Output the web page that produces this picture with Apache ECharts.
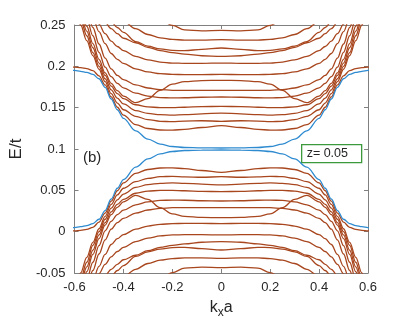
<!DOCTYPE html>
<html>
<head>
<meta charset="utf-8">
<script src="https://cdn.jsdelivr.net/npm/echarts@6/dist/echarts.min.js"></script>
<style>
  html, body { margin: 0; padding: 0; background: #fff; }
  #main { width: 407px; height: 327px; }
</style>
</head>
<body>
<div id="main"></div>
<script>
// half of the k axis (curves are symmetric in k)
var kHalf = [0, 0.08, 0.15, 0.2, 0.25, 0.3, 0.35, 0.4, 0.425, 0.45, 0.475, 0.5, 0.525, 0.55, 0.575, 0.6, 0.65];

// blue edge states
var blueLow = [0.0988, 0.0987, 0.0982, 0.0970, 0.0940, 0.0880, 0.0780, 0.0630, 0.0525, 0.0395, 0.0255, 0.0150, 0.0098, 0.0074, 0.0060, 0.0050, 0.0037];
var blueUp  = [0.1012, 0.1013, 0.1018, 0.1030, 0.1060, 0.1120, 0.1220, 0.1370, 0.1475, 0.1605, 0.1745, 0.1850, 0.1902, 0.1926, 0.1940, 0.1950, 0.1963];

// brown bands below E=0.1
var low1  = [0.0718, 0.0740, 0.0762, 0.0772, 0.0770, 0.0752, 0.0705, 0.0590, 0.0495, 0.0370, 0.0225, 0.0115, 0.0052, 0.0027, 0.0016, 0.0010, 0.0005];
var low2  = [0.0665, 0.0658, 0.0662, 0.0670, 0.0665, 0.0645, 0.0605, 0.0525, 0.0445, 0.0330, 0.0185, 0.0035, -0.0130, -0.0310, -0.0500, -0.0700, -0.1100];
var low3  = [0.0565, 0.0575, 0.0585, 0.0590, 0.0585, 0.0570, 0.0535, 0.0455, 0.0385, 0.0285, 0.0150, 0.0000, -0.0165, -0.0370, -0.0570, -0.0770, -0.1170];
var low4  = [0.0484, 0.0488, 0.0495, 0.0500, 0.0500, 0.0490, 0.0465, 0.0390, 0.0330, 0.0240, 0.0110, -0.0040, -0.0225, -0.0425, -0.0630, -0.0830, -0.1230];
var low5  = [0.0371, 0.0374, 0.0380, 0.0382, 0.0378, 0.0360, 0.0325, 0.0260, 0.0205, 0.0125, 0.0010, -0.0170, -0.0370, -0.0580, -0.0790, -0.1000, -0.1420];
var low6  = [0.0290, 0.0292, 0.0292, 0.0290, 0.0282, 0.0262, 0.0225, 0.0160, 0.0110, 0.0030, -0.0100, -0.0270, -0.0470, -0.0680, -0.0890, -0.1100, -0.1520];
var low7  = [0.0169, 0.0172, 0.0185, 0.0215, 0.0290, 0.0390, 0.0440, 0.0360, 0.0295, 0.0205, 0.0080, -0.0085, -0.0275, -0.0485, -0.0690, -0.0900, -0.1320];
var low8  = [0.0097, 0.0100, 0.0100, 0.0097, 0.0088, 0.0068, 0.0030, -0.0035, -0.0085, -0.0155, -0.0275, -0.0420, -0.0590, -0.0770, -0.0960, -0.1160, -0.1560];
var low9  = [-0.0040, -0.0036, -0.0036, -0.0040, -0.0052, -0.0078, -0.0120, -0.0190, -0.0240, -0.0305, -0.0395, -0.0510, -0.0660, -0.0830, -0.1020, -0.1220, -0.1620];
var low10 = [-0.0121, -0.0128, -0.0148, -0.0165, -0.0190, -0.0230, -0.0285, -0.0340, -0.0395, -0.0455, -0.0530, -0.0630, -0.0750, -0.0890, -0.1050, -0.1220, -0.1600];
var low11 = [-0.0222, -0.0205, -0.0190, -0.0192, -0.0210, -0.0245, -0.0300, -0.0410, -0.0470, -0.0540, -0.0620, -0.0710, -0.0810, -0.0920, -0.1040, -0.1170, -0.1450];
var low12 = [-0.0323, -0.0318, -0.0318, -0.0325, -0.0345, -0.0385, -0.0455, -0.0545, -0.0600, -0.0660, -0.0730, -0.0800, -0.0880, -0.0960, -0.1050, -0.1140, -0.1330];
var low13 = [-0.0436, -0.0430, -0.0440, -0.0495, -0.0570, -0.0660, -0.0760, -0.0870, -0.0930, -0.0990, -0.1050, -0.1110, -0.1180, -0.1250, -0.1320, -0.1390, -0.1530];

// brown bands above E=0.1
var up1  = [0.1282, 0.1260, 0.1238, 0.1228, 0.1230, 0.1248, 0.1295, 0.1410, 0.1505, 0.1630, 0.1775, 0.1885, 0.1948, 0.1973, 0.1984, 0.1990, 0.1995];
var up2  = [0.1335, 0.1342, 0.1338, 0.1330, 0.1335, 0.1355, 0.1395, 0.1475, 0.1555, 0.1670, 0.1815, 0.1965, 0.2130, 0.2310, 0.2500, 0.2700, 0.3100];
var up3  = [0.1435, 0.1425, 0.1415, 0.1410, 0.1415, 0.1430, 0.1465, 0.1545, 0.1615, 0.1715, 0.1850, 0.2000, 0.2165, 0.2370, 0.2570, 0.2770, 0.3170];
var up4  = [0.1516, 0.1512, 0.1505, 0.1500, 0.1500, 0.1510, 0.1535, 0.1610, 0.1670, 0.1760, 0.1890, 0.2040, 0.2225, 0.2425, 0.2630, 0.2830, 0.3230];
var up5  = [0.1629, 0.1626, 0.1620, 0.1618, 0.1622, 0.1640, 0.1675, 0.1740, 0.1795, 0.1875, 0.1990, 0.2170, 0.2370, 0.2580, 0.2790, 0.3000, 0.3420];
var up6  = [0.1710, 0.1708, 0.1708, 0.1710, 0.1718, 0.1738, 0.1775, 0.1840, 0.1890, 0.1970, 0.2100, 0.2270, 0.2470, 0.2680, 0.2890, 0.3100, 0.3520];
var up7  = [0.1831, 0.1828, 0.1815, 0.1785, 0.1710, 0.1610, 0.1560, 0.1640, 0.1705, 0.1795, 0.1920, 0.2085, 0.2275, 0.2485, 0.2690, 0.2900, 0.3320];
var up8  = [0.1903, 0.1900, 0.1900, 0.1903, 0.1912, 0.1932, 0.1970, 0.2035, 0.2085, 0.2155, 0.2275, 0.2420, 0.2590, 0.2770, 0.2960, 0.3160, 0.3560];
var up9  = [0.2040, 0.2036, 0.2036, 0.2040, 0.2052, 0.2078, 0.2120, 0.2190, 0.2240, 0.2305, 0.2395, 0.2510, 0.2660, 0.2830, 0.3020, 0.3220, 0.3620];
var up10 = [0.2121, 0.2128, 0.2148, 0.2165, 0.2190, 0.2230, 0.2285, 0.2340, 0.2395, 0.2455, 0.2530, 0.2630, 0.2750, 0.2890, 0.3050, 0.3220, 0.3600];
var up11 = [0.2222, 0.2205, 0.2190, 0.2192, 0.2210, 0.2245, 0.2300, 0.2410, 0.2470, 0.2540, 0.2620, 0.2710, 0.2810, 0.2920, 0.3040, 0.3170, 0.3450];
var up12 = [0.2323, 0.2318, 0.2318, 0.2325, 0.2345, 0.2385, 0.2455, 0.2545, 0.2600, 0.2660, 0.2730, 0.2800, 0.2880, 0.2960, 0.3050, 0.3140, 0.3330];
var up13 = [0.2436, 0.2430, 0.2440, 0.2495, 0.2570, 0.2660, 0.2760, 0.2870, 0.2930, 0.2990, 0.3050, 0.3110, 0.3180, 0.3250, 0.3320, 0.3390, 0.3530];

var brownCurves = [low1, low2, low3, low4, low5, low6, low7, low8, low9, low10, low11, low12, low13,
                   up1, up2, up3, up4, up5, up6, up7, up8, up9, up10, up11, up12, up13];
var blueCurves = [blueLow, blueUp];

var xTicks = [-0.6, 0.6, 0.2];   // min, max, step
var yTicks = [-0.05, 0.25, 0.05];

var fontName = 'Liberation Sans, Arial, sans-serif';
var brown = '#A8461E';
var blue = '#2F8BD0';
var axisGray = '#808080';

// build [k, E] pairs over the full k range from the half-range values
function fullBand(vals) {
    var pts = [];
    for (var i = kHalf.length - 1; i > 0; i--) pts.push([-kHalf[i], vals[i]]);
    for (var j = 0; j < kHalf.length; j++) pts.push([kHalf[j], vals[j]]);
    return pts;
}

function makeLine(vals, color) {
    return {
        type: 'line',
        data: fullBand(vals),
        smooth: 0.35,
        smoothMonotone: 'x',
        showSymbol: false,
        symbol: 'none',
        clip: true,
        silent: true,
        animation: false,
        lineStyle: { color: color, width: 1.3 }
    };
}

var series = [];
brownCurves.forEach(function (c) { series.push(makeLine(c, brown)); });
blueCurves.forEach(function (c) { series.push(makeLine(c, blue)); });

function fmt(v) { return String(+v.toFixed(2)); }

var option = {
    animation: false,
    grid: { left: 67, right: 39, top: 25, bottom: 54 },
    xAxis: [
        {
            type: 'value', min: xTicks[0], max: xTicks[1], interval: xTicks[2],
            position: 'bottom',
            axisLine: { show: true, onZero: false, lineStyle: { color: axisGray, width: 1 } },
            axisTick: { show: true, inside: true, length: 4, lineStyle: { color: axisGray } },
            axisLabel: { color: '#262626', fontSize: 13, margin: 8, fontFamily: fontName, formatter: fmt },
            splitLine: { show: false },
            name: '{k|k}{s|x}{k|a}',
            nameLocation: 'middle',
            nameGap: 24,
            nameTextStyle: {
                fontFamily: fontName,
                rich: {
                    k: { fontSize: 16, color: '#262626', fontFamily: fontName },
                    s: { fontSize: 12, color: '#262626', fontFamily: fontName, padding: [10, 0, 0, 0] }
                }
            }
        },
        {
            type: 'value', min: xTicks[0], max: xTicks[1], interval: xTicks[2],
            position: 'top',
            axisLine: { show: true, onZero: false, lineStyle: { color: axisGray, width: 1 } },
            axisTick: { show: true, inside: true, length: 4, lineStyle: { color: axisGray } },
            axisLabel: { show: false },
            splitLine: { show: false }
        }
    ],
    yAxis: [
        {
            type: 'value', min: yTicks[0], max: yTicks[1], interval: yTicks[2],
            position: 'left',
            axisLine: { show: true, onZero: false, lineStyle: { color: axisGray, width: 1 } },
            axisTick: { show: true, inside: true, length: 4, lineStyle: { color: axisGray } },
            axisLabel: { color: '#262626', fontSize: 13, margin: 9, fontFamily: fontName, formatter: fmt },
            splitLine: { show: false },
            name: 'E/t',
            nameLocation: 'middle',
            nameRotate: 90,
            nameGap: 42,
            nameTextStyle: { fontSize: 17, color: '#262626', fontFamily: fontName }
        },
        {
            type: 'value', min: yTicks[0], max: yTicks[1], interval: yTicks[2],
            position: 'right',
            axisLine: { show: true, onZero: false, lineStyle: { color: axisGray, width: 1 } },
            axisTick: { show: true, inside: true, length: 4, lineStyle: { color: axisGray } },
            axisLabel: { show: false },
            splitLine: { show: false }
        }
    ],
    graphic: [
        {
            type: 'text', left: 83, top: 150,
            style: { text: '(b)', fontSize: 15, fill: '#262626', fontFamily: fontName }
        },
        {
            type: 'group', left: 301, top: 144,
            children: [
                { type: 'rect', shape: { x: 0, y: 0, width: 60, height: 18 },
                  style: { fill: '#fff', stroke: '#3C9A3C', lineWidth: 1.3 } },
                { type: 'text', x: 5, y: 9,
                  style: { text: 'z= 0.05', fontSize: 12.5, fill: '#262626', fontFamily: fontName, verticalAlign: 'middle' } }
            ]
        }
    ],
    series: series
};

var chart = echarts.init(document.getElementById('main'), null, { renderer: 'canvas' });
chart.setOption(option);
</script>
</body>
</html>
